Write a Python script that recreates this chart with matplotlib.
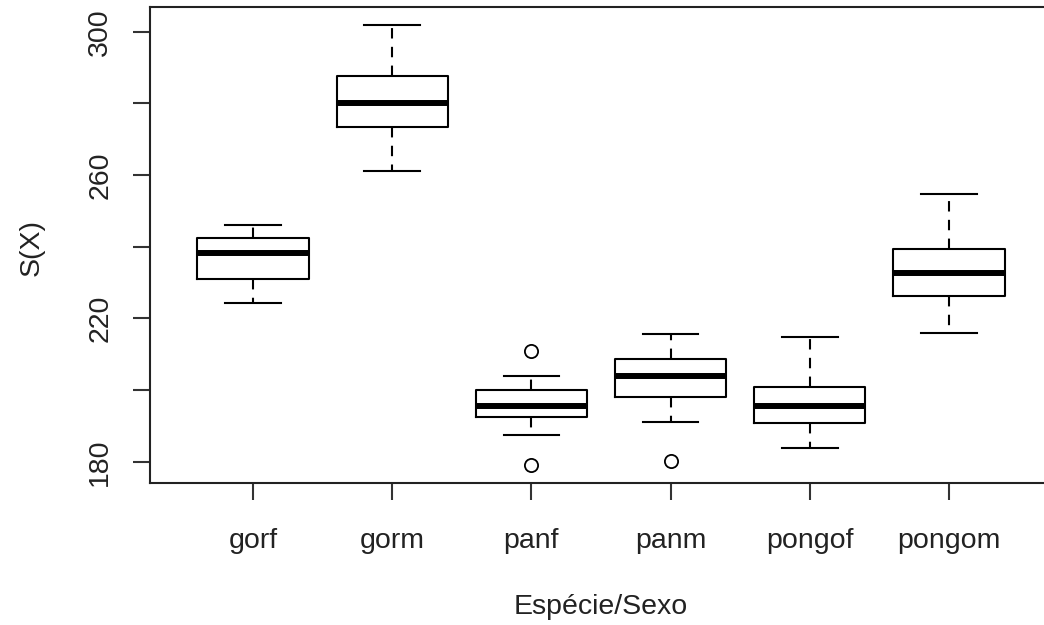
import matplotlib.pyplot as plt

plt.rcParams['font.family'] = ['Liberation Sans', 'DejaVu Sans']

# box statistics
groups = ["gorf", "gorm", "panf", "panm", "pongof", "pongom"]
whislo = [224.3, 261.2, 187.5, 191.1, 184.0, 215.9]
q1 = [231.0, 273.5, 192.6, 198.2, 190.8, 226.3]
med = [238.2, 280.0, 195.6, 203.9, 195.6, 232.7]
q3 = [242.5, 287.6, 200.0, 208.7, 200.9, 239.4]
whishi = [246.1, 302.0, 204.0, 215.6, 214.9, 254.7]
fliers = [[], [], [210.8, 179.0], [180.2], [], []]

stats = []
for i, g in enumerate(groups):
    stats.append({"label": g, "whislo": whislo[i], "q1": q1[i], "med": med[i],
                  "q3": q3[i], "whishi": whishi[i], "fliers": fliers[i]})

W, H = 1044, 625
fig = plt.figure(figsize=(W / 100, H / 100), dpi=100)
# axes: left 150px, top 7px, bottom 483px, right edge runs past the image (R box cropped)
ax = fig.add_axes([150 / W, (H - 483) / H, 902 / W, 476 / H])

lw = 1.5
ax.bxp(stats, positions=range(1, 7), widths=0.8, showfliers=True,
       boxprops=dict(color="black", linewidth=lw),
       medianprops=dict(color="black", linewidth=4.3, solid_capstyle="butt"),
       whiskerprops=dict(color="black", linewidth=lw, linestyle=(0, (5, 4))),
       capprops=dict(color="black", linewidth=lw),
       capwidths=0.4,
       flierprops=dict(marker="o", markersize=9.5, markerfacecolor="none",
                       markeredgecolor="black", markeredgewidth=1.3))

ax.set_xlim(0.26, 6.74)
ax.set_ylim(174.1, 306.9)
ax.set_yticks([180, 200, 220, 240, 260, 280, 300])
ax.set_yticklabels(["180", "", "220", "", "260", "", "300"], rotation=90, va="center")
ax.set_xticks(range(1, 7))
ax.set_xticklabels(groups)

for s in ax.spines.values():
    s.set_linewidth(1.5)
    s.set_color("#222222")
ax.tick_params(axis="both", length=12.5, width=1.5, color="#333333",
               labelsize=20.5, labelcolor="#222222")
ax.tick_params(axis="x", pad=20)
ax.tick_params(axis="y", pad=14)

fig.text(601 / W, 1 - 607 / H, "Espécie/Sexo", ha="center", va="center",
         fontsize=20.5, color="#222222")
fig.text(32 / W, 1 - 247 / H, "S(X)", ha="center", va="center", rotation=90,
         fontsize=20.5, color="#222222")

fig.savefig("out.png", dpi=100)
